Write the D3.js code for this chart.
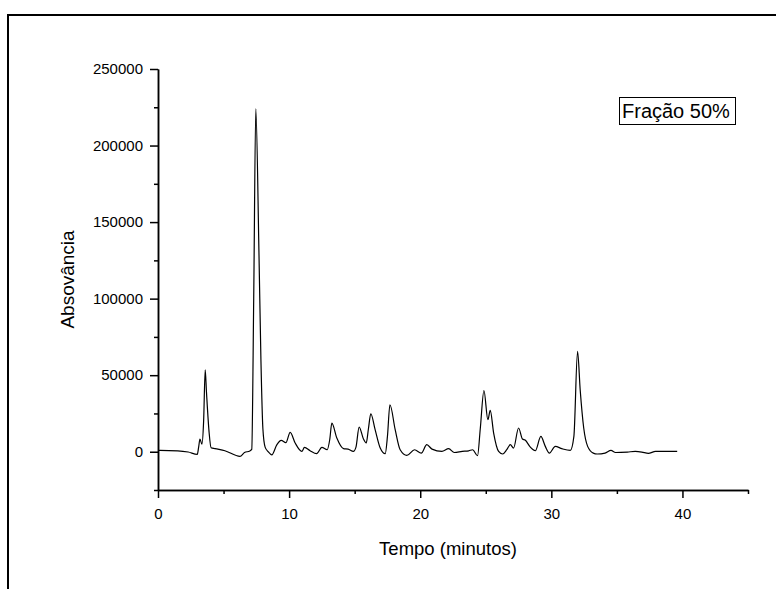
<!DOCTYPE html>
<html>
<head>
<meta charset="utf-8">
<script src="https://cdn.jsdelivr.net/npm/d3@7"></script>
<style>
  body { margin: 0; background: #fff; }
  text { font-family: "Liberation Sans", Arial, sans-serif; fill: #000; }
</style>
</head>
<body>
<div id="chart"></div>
<script>
const tempo = [
    0, 0.15, 1.5, 2.3, 3.0, 3.1, 3.2, 3.35, 3.48, 3.6,
    3.7, 3.9, 4.05, 4.35, 5.1, 6.25, 6.6, 7.0, 7.15, 7.3,
    7.46, 7.7, 7.85, 8.0, 8.17, 8.4, 8.68, 9.06, 9.4, 9.75,
    10.08, 10.46, 10.97, 11.17, 11.6, 12.1, 12.5, 12.9, 13.1, 13.26,
    13.64, 14.15, 14.5, 14.9, 15.1, 15.34, 15.67, 15.88, 16.05, 16.23,
    16.56, 16.95, 17.33, 17.5, 17.69, 18.09, 18.47, 18.98, 19.57, 20.08,
    20.5, 20.9, 21.65, 22.17, 22.6, 23.2, 23.7, 24.0, 24.37, 24.58,
    24.86, 25.16, 25.34, 25.6, 25.98, 26.29, 26.6, 26.87, 27.12, 27.5,
    27.8, 28.0, 28.4, 28.78, 29.2, 29.54, 29.85, 30.3, 30.8, 31.45,
    31.72, 32.0, 32.2, 32.47, 32.77, 33.2, 33.5, 34.1, 34.55, 34.9,
    35.8, 36.4, 36.9, 37.4, 37.95, 39.6
];
const absorvancia = [
    800, 850, 600, -200, -1700, 3000, 8300, 5000, 20000, 53500,
    38500, 12400, 2600, 2000, 650, -3000, -500, 500, 1500, 100000,
    224000, 130000, 60000, 15000, 3000, 0, -2000, 4500, 7400, 5900,
    12600, 5700, 200, 2800, 650, -1300, 2800, 1300, 8000, 18700,
    8900, 2000, 1700, 200, 3000, 16100, 8300, 5700, 15000, 24800,
    14400, 2400, -1300, 10000, 30700, 14400, 1300, -2400, 1300, -900,
    4600, 1700, 200, 2000, -500, 200, 600, 1300, -2600, 15000,
    40000, 20900, 27000, 12200, 200, -1500, 1300, 4600, 2400, 15500,
    8300, 7600, 3000, 650, 10000, 3500, -900, 3500, 2000, 850,
    10000, 65500, 40500, 15500, 3500, -900, -1500, -900, 850, -500,
    -200, 200, -200, -1100, 200, 200
];
const xTicks = [0, 10, 20, 30, 40];
const xMinor = [5, 15, 25, 35, 45];
const yTicks = [0, 50000, 100000, 150000, 200000, 250000];
const yMinor = [-25000, 25000, 75000, 125000, 175000, 225000];
const legenda = "Fração 50%";

const data = tempo.map((t, i) => ({ t: t, v: absorvancia[i] }));

const W = 776, H = 589;
const margin = { top: 69, right: 28, bottom: 99, left: 158 };

const svg = d3.select("#chart")
    .append("svg")
    .attr("width", W)
    .attr("height", H);

// moldura externa (sai da área visível)
svg.append("rect")
    .attr("x", 8).attr("y", 15)
    .attr("width", 900).attr("height", 700)
    .attr("fill", "none")
    .attr("stroke", "#000")
    .attr("stroke-width", 2);

const xScale = d3.scaleLinear().domain([0, 45]).range([margin.left, W - margin.right]);
const yScale = d3.scaleLinear().domain([-25000, 250000]).range([H - margin.bottom, margin.top]);

const xAxis = d3.axisBottom(xScale).tickValues(xTicks).tickSize(8).tickSizeOuter(0).tickPadding(10);
const xAxisMinor = d3.axisBottom(xScale).tickValues(xMinor).tickSize(4).tickSizeOuter(0).tickFormat("");
const yAxis = d3.axisLeft(yScale).tickValues(yTicks).tickSize(8).tickSizeOuter(0).tickPadding(7).tickFormat(d3.format("d"));
const yAxisMinor = d3.axisLeft(yScale).tickValues(yMinor).tickSize(4).tickSizeOuter(0).tickFormat("");

// eixos menores e maiores em grupos separados
svg.append("g").attr("transform", `translate(0,${H - margin.bottom})`).call(xAxisMinor);
svg.append("g").attr("transform", `translate(0,${H - margin.bottom})`).call(xAxis);
svg.append("g").attr("transform", `translate(${margin.left},0)`).call(yAxisMinor);
svg.append("g").attr("transform", `translate(${margin.left},0)`).call(yAxis);

svg.selectAll(".domain").attr("stroke", "#000").attr("stroke-width", 1.5);
svg.selectAll(".tick line").attr("stroke", "#000").attr("stroke-width", 1.5);
svg.selectAll(".tick text").style("font-size", "15px").attr("fill", "#000")
    .style("font-family", '"Liberation Sans", Arial, sans-serif');

// cromatograma
const line = d3.line()
    .x(d => xScale(d.t))
    .y(d => yScale(d.v))
    .curve(d3.curveMonotoneX);

svg.append("path")
    .datum(data)
    .attr("d", line)
    .attr("fill", "none")
    .attr("stroke", "#000")
    .attr("stroke-width", 1.2);

// títulos dos eixos
svg.append("text")
    .attr("x", 448)
    .attr("y", 555)
    .attr("text-anchor", "middle")
    .style("font-size", "18.5px")
    .text("Tempo (minutos)");

svg.append("text")
    .attr("transform", `translate(74,${(yScale(-25000) + yScale(250000)) / 2}) rotate(-90)`)
    .attr("text-anchor", "middle")
    .style("font-size", "19px")
    .text("Absovância");

// legenda
svg.append("rect")
    .attr("x", 619.5).attr("y", 97.5)
    .attr("width", 116).attr("height", 27)
    .attr("fill", "#fff")
    .attr("stroke", "#000")
    .attr("stroke-width", 1);

svg.append("text")
    .attr("x", 622)
    .attr("y", 118)
    .style("font-size", "20px")
    .text(legenda);
</script>
</body>
</html>
